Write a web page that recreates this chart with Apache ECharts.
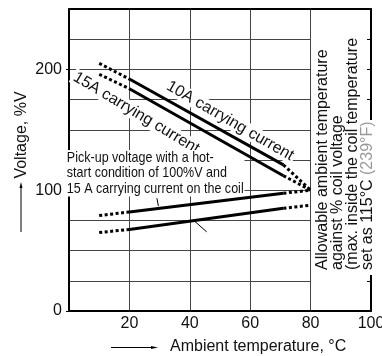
<!DOCTYPE html>
<html>
<head>
<meta charset="utf-8">
<script src="https://cdn.jsdelivr.net/npm/echarts@6/dist/echarts.min.js"></script>
<style>
  html, body { margin: 0; padding: 0; background: #fff; }
  #chart { width: 382px; height: 356px; }
</style>
</head>
<body>
<div id="chart"></div>
<script>
// Voltage vs ambient temperature curves
const temps = [10, 20, 71, 80]; // dotted start, solid start, solid end, dotted end
const v10A = [205, 192, 121, 100];
const v15A = [196, 184, 112, 100];
const vHotStart = [79, 82, 97.5, 100];
const vLower = [65, 67.5, 85, 87.6];

const xTicks = [20, 40, 60, 80, 100];
const yLabels = [0, 100, 200];

// short leader lines, in data coordinates
const leaders = [
  [[29.1, 93.4], [29.6, 86.8]],
  [[41.2, 75.2], [45.6, 65.5]],
];

const FONT = '"Liberation Sans", Arial, sans-serif';

const dotted = { color: '#000', width: 3, type: [3, 2.5], cap: 'butt' };
const solid = { color: '#000', width: 3 };

function curve(vals) {
  const pts = temps.map((t, i) => [t, vals[i]]);
  const seg = (data, lineStyle) => ({
    type: 'line',
    xAxisIndex: 0,
    yAxisIndex: 0,
    data,
    symbol: 'none',
    silent: true,
    z: 4,
    lineStyle,
  });
  return [
    seg(pts.slice(0, 2), dotted),
    seg(pts.slice(1, 3), solid),
    seg(pts.slice(2, 4), dotted),
  ];
}

const series = [
  ...curve(v10A),
  ...curve(v15A),
  ...curve(vHotStart),
  ...curve(vLower),
  {
    type: 'line',
    xAxisIndex: 0,
    yAxisIndex: 0,
    data: [],
    silent: true,
    z: 4,
    markLine: {
      silent: true,
      symbol: 'none',
      label: { show: false },
      lineStyle: { color: '#000', width: 1, type: 'solid' },
      data: leaders.map(([a, b]) => [{ coord: a }, { coord: b }]),
    },
  },
];

const frame = { lineStyle: { color: '#000', width: 2 } };

const option = {
  animation: false,
  backgroundColor: '#fff',
  grid: [
    { left: 69, top: 9, width: 302, height: 302, outerBoundsMode: 'none' },
    { left: 69, top: 9, width: 241.6, height: 302, outerBoundsMode: 'none' },
  ],
  xAxis: [
    {
      gridIndex: 0, type: 'value', min: 0, max: 100, interval: 20,
      axisLine: { onZero: false, ...frame },
      axisTick: { show: false },
      axisLabel: {
        customValues: xTicks, margin: 5, color: '#111', fontSize: 16, fontFamily: FONT,
      },
      splitLine: { lineStyle: { color: '#444', width: 1 } },
    },
    {
      gridIndex: 0, type: 'value', position: 'top', min: 0, max: 100,
      axisLine: { onZero: false, ...frame },
      axisTick: { show: false }, axisLabel: { show: false }, splitLine: { show: false },
    },
    { gridIndex: 1, type: 'value', min: 0, max: 80, show: false },
  ],
  yAxis: [
    {
      gridIndex: 0, type: 'value', min: 0, max: 250, interval: 25,
      axisLine: { onZero: false, ...frame },
      axisTick: { customValues: yLabels, length: 3, lineStyle: { color: '#000' } },
      axisLabel: {
        customValues: yLabels, margin: 7, color: '#111', fontSize: 16, fontFamily: FONT,
      },
      splitLine: { show: false },
    },
    {
      gridIndex: 0, type: 'value', position: 'right', min: 0, max: 250, interval: 25,
      axisLine: { onZero: false, ...frame },
      axisTick: { inside: true, length: 4, lineStyle: { color: '#000' } },
      axisLabel: { show: false }, splitLine: { show: false },
    },
    {
      gridIndex: 1, type: 'value', min: 0, max: 250, interval: 25,
      axisLine: { show: false }, axisTick: { show: false }, axisLabel: { show: false },
      splitLine: { lineStyle: { color: '#444', width: 1 } },
    },
  ],
  series,
  graphic: [
    // y axis title with arrow
    {
      type: 'text', x: 22, y: 135, rotation: Math.PI / 2, z: 3,
      style: { text: 'Voltage, %V', font: '16px ' + FONT, fill: '#111', align: 'center', verticalAlign: 'middle' },
    },
    { type: 'line', z: 3, shape: { x1: 21, y1: 232, x2: 21, y2: 186 }, style: { stroke: '#000', lineWidth: 1 } },
    { type: 'polygon', z: 3, shape: { points: [[21, 182], [19.5, 188], [22.5, 188]] }, style: { fill: '#000' } },
    // x axis title with arrow
    {
      type: 'text', x: 170, y: 347, z: 3,
      style: { text: 'Ambient temperature, °C', font: '16px ' + FONT, fill: '#111', align: 'left', verticalAlign: 'middle' },
    },
    { type: 'line', z: 3, shape: { x1: 111, y1: 347.5, x2: 152, y2: 347.5 }, style: { stroke: '#000', lineWidth: 1 } },
    { type: 'polygon', z: 3, shape: { points: [[158, 347.5], [151, 346], [151, 349]] }, style: { fill: '#000' } },
    // curve labels
    {
      type: 'text', x: 170, y: 77, rotation: -30 * Math.PI / 180, z: 3,
      style: { text: '10A carrying current', font: '16px ' + FONT, fill: '#111', backgroundColor: '#fff', padding: [0, 2], verticalAlign: 'top' },
    },
    {
      type: 'text', x: 77, y: 68, rotation: -31 * Math.PI / 180, z: 3,
      style: { text: '15A carrying current', font: '16px ' + FONT, fill: '#111', backgroundColor: '#fff', padding: [0, 2], verticalAlign: 'top' },
    },
    {
      type: 'text', x: 66, y: 150, z: 3, scaleX: 0.835,
      style: {
        text: 'Pick-up voltage with a hot-\nstart condition of 100%V and\n15 A carrying current on the coil',
        font: '15px ' + FONT, lineHeight: 15.5, fill: '#111', backgroundColor: '#fff',
        padding: [0, 1], verticalAlign: 'top',
      },
    },
    // right-hand note, breaks the right border where it overlaps
    { type: 'rect', z: 3, shape: { x: 364, y: 120, width: 10, height: 155 }, style: { fill: '#fff' } },
    {
      type: 'text', x: 315, y: 270, rotation: Math.PI / 2, z: 3,
      style: {
        text: 'Allowable ambient temperature\nagainst % coil voltage\n(max. inside the coil temperature\nset as 115°C {g|(239°F)}',
        font: '16px ' + FONT, lineHeight: 15, fill: '#111', align: 'left', verticalAlign: 'top',
        rich: { g: { fill: '#999', font: '16px ' + FONT } },
      },
    },
  ],
};

const chart = echarts.init(document.getElementById('chart'));
chart.setOption(option);
</script>
</body>
</html>
